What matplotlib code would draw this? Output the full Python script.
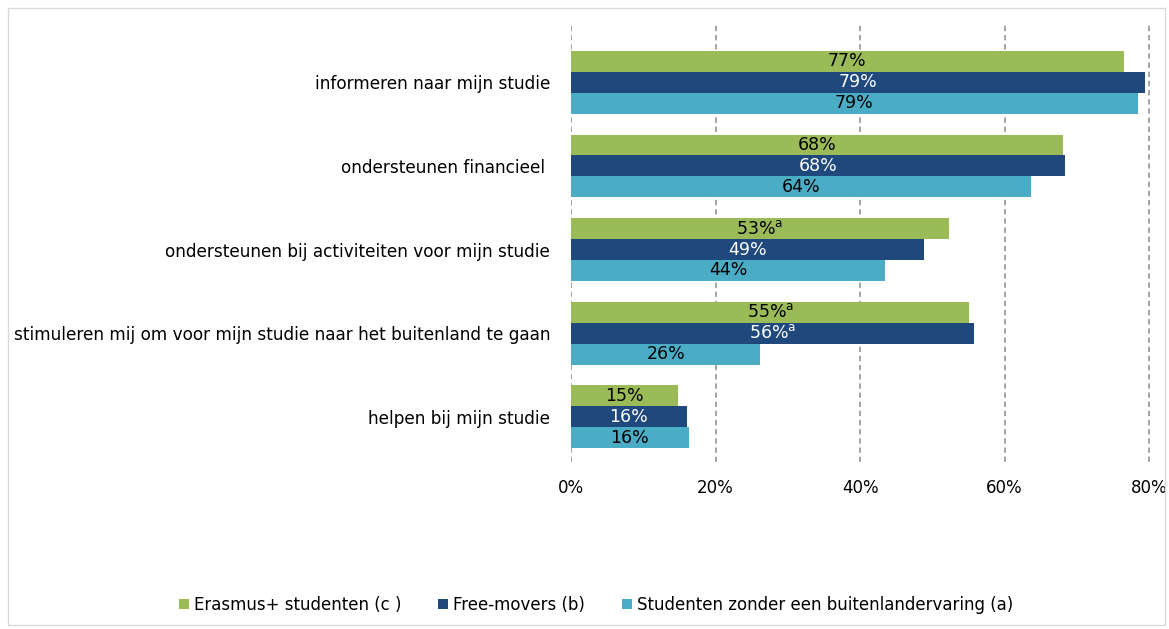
import numpy as np
import matplotlib.pyplot as plt
from matplotlib.patches import Rectangle

categories = ['informeren naar mijn studie', 'ondersteunen financieel ',
              'ondersteunen bij activiteiten voor mijn studie',
              'stimuleren mij om voor mijn studie naar het buitenland te gaan',
              'helpen bij mijn studie']
series = ['Erasmus+ studenten (c )', 'Free-movers (b)',
          'Studenten zonder een buitenlandervaring (a)']
erasmus = [76.5, 68.1, 52.3, 55.1, 14.8]
free_movers = [79.4, 68.4, 48.9, 55.8, 16.0]
zonder = [78.4, 63.7, 43.5, 26.2, 16.3]
erasmus_lbl = ['77%', '68%', '53%', '55%', '15%']
free_lbl = ['79%', '68%', '49%', '56%', '16%']
zonder_lbl = ['79%', '64%', '44%', '26%', '16%']
erasmus_sup = ['', '', 'a', 'a', '']
free_sup = ['', '', '', 'a', '']
zonder_sup = ['', '', '', '', '']
xticks = [0, 20, 40, 60, 80]

colors = ['#9BBB59', '#1F497D', '#4BACC6']
txtcol = ['black', 'white', 'black']

plt.rcParams['font.family'] = ['DejaVu Sans']
fig = plt.figure(figsize=(11.69, 6.29), dpi=100)
ax = fig.add_axes([571/1169, 1-462/629, (1160-571)/1169, (462-22)/629])

y = np.arange(len(categories))
h = 0.25
data = [erasmus, free_movers, zonder]
lbls = [erasmus_lbl, free_lbl, zonder_lbl]
sups = [erasmus_sup, free_sup, zonder_sup]
for k in range(3):
    yy = y + (k-1)*h
    ax.barh(yy, data[k], height=h, color=colors[k], label=series[k], zorder=2)
    for i in range(len(categories)):
        s = lbls[k][i]
        if sups[k][i]:
            s = s + r'$^{\mathrm{' + sups[k][i] + '}}$'
        ax.text(data[k][i]/2, yy[i], s, ha='center', va='center',
                color=txtcol[k], fontsize=12.5, zorder=3)

ax.set_xlim(0, 81.5)
ax.set_ylim(4.54, -0.72)
ax.set_xticks(xticks)
ax.set_xticklabels([str(t)+'%' for t in xticks], fontsize=12)
ax.set_yticks(y)
ax.set_yticklabels(categories, fontsize=12.2)
ax.tick_params(axis='x', length=0, pad=12)
ax.tick_params(axis='y', length=0, pad=15)
for s in ax.spines.values():
    s.set_visible(False)
ax.grid(axis='x', color='#8C8C8C', linestyle=(0, (3.5, 2.5)), linewidth=1.1, zorder=0)

ax.legend(loc='center', bbox_to_anchor=(596/1169, 1-605/629),
          bbox_transform=fig.transFigure, ncol=3, frameon=False,
          fontsize=12, handlelength=0.6, handleheight=0.6,
          handletextpad=0.3, columnspacing=2.2)

fig.patches.append(Rectangle((8/1169, 4/629), 1157/1169, 617/629,
                             transform=fig.transFigure, fill=False,
                             edgecolor='#D9D9D9', linewidth=1))
fig.savefig('out.png', dpi=100)
